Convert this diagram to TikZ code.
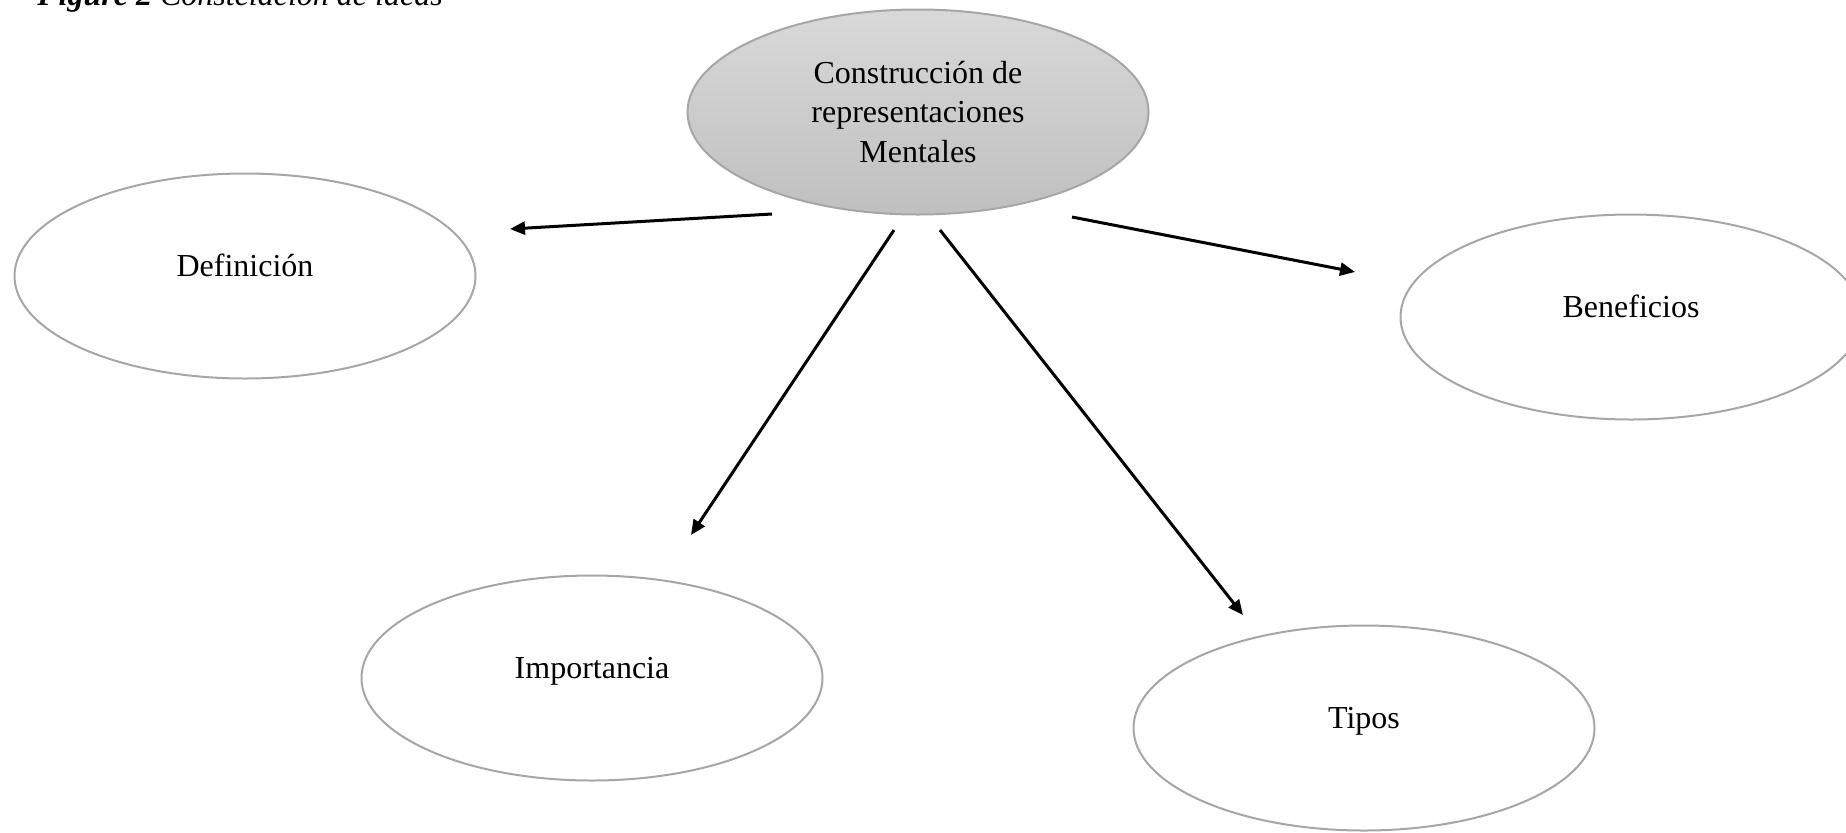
\documentclass[tikz,border=0pt]{standalone}
\usepackage{fontspec}
\setmainfont{Liberation Serif}
\usetikzlibrary{shapes.geometric,arrows.meta}

\tikzset{
  bubble/.style={ellipse, draw=gray!70, line width=1pt, minimum width=230.5pt,
    minimum height=102.5pt, inner sep=0pt, text height=11pt, text depth=11pt,
    font=\fontsize{16}{19.7}\selectfont},
  centre/.style={bubble, text height=, text depth=, top color=gray!30,
    bottom color=gray!50, align=center},
  link/.style={line width=1.5pt, -{Triangle[length=7.5pt,width=6.5pt]}}
}

\begin{document}
\begin{tikzpicture}[x=0.5pt, y=-0.5pt]

    \useasboundingbox (0,0) rectangle (1846,832);

    % Caption (cut off at the top)
    \node[anchor=base west, inner sep=0pt, font=\fontsize{16}{19.7}\selectfont] (caption) at (37,5)
        {\textbf{\textit{Figure 2}} \textit{Constelación de ideas}};

    % Centre idea
    \node[centre] (cen) at (918,112) {Construcción de\\representaciones\\Mentales};

    % Branches
    \node[bubble] (def) at (245,276) {Definición};
    \node[bubble] (ben) at (1631,317) {Beneficios};
    \node[bubble] (imp) at (592,678) {Importancia};
    \node[bubble] (tip) at (1364,728) {Tipos};

    % Arrow ends
    \coordinate (defa) at (772,214);   \coordinate (defb) at (510,229);
    \coordinate (impa) at (894,230);   \coordinate (impb) at (691,535);
    \coordinate (tipa) at (940,230);   \coordinate (tipb) at (1243,615);
    \coordinate (bena) at (1072,217);  \coordinate (benb) at (1355,272);

    % Arrows
    \draw[link] (defa) -- (defb);
    \draw[link] (impa) -- (impb);
    \draw[link] (tipa) -- (tipb);
    \draw[link] (bena) -- (benb);

\end{tikzpicture}
\end{document}
